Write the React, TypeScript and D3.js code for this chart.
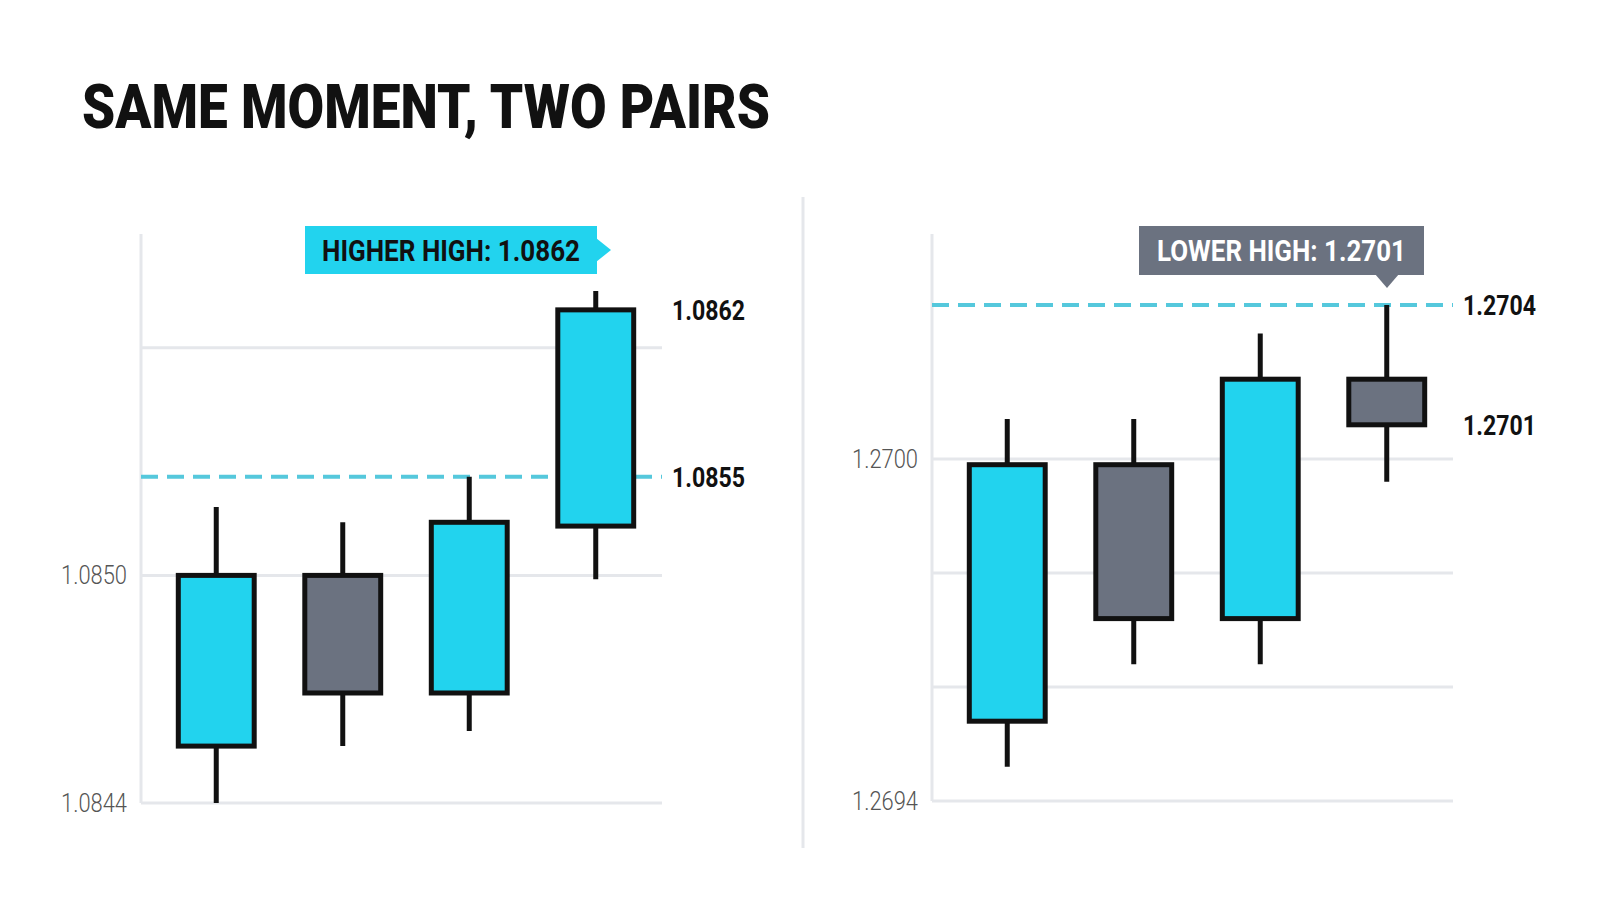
import * as d3 from 'd3'

// EUR/USD candles (left panel)
const EUR_OPEN = [1.08455, 1.085, 1.08469, 1.08513]
const EUR_HIGH = [1.08518, 1.08514, 1.08526, 1.08575]
const EUR_LOW = [1.0844, 1.08455, 1.08459, 1.08499]
const EUR_CLOSE = [1.085, 1.08469, 1.08514, 1.0857]
const EUR_GRID = [1.0844, 1.085, 1.0856]
const EUR_TICKS = ['1.0844', '1.0850']

// GBP/USD candles (right panel)
const GBP_OPEN = [1.26954, 1.26999, 1.26972, 1.27014]
const GBP_HIGH = [1.27007, 1.27007, 1.27022, 1.27027]
const GBP_LOW = [1.26946, 1.26964, 1.26964, 1.26996]
const GBP_CLOSE = [1.26999, 1.26972, 1.27014, 1.27006]
const GBP_GRID = [1.2694, 1.2696, 1.2698, 1.27]
const GBP_TICKS = ['1.2694', '1.2700']

// annotated levels: [price, label]
const EUR_LEVELS: [number, string][] = [[1.08526, '1.0855'], [1.0857, '1.0862']]
const GBP_LEVELS: [number, string][] = [[1.27027, '1.2704'], [1.27006, '1.2701']]

const CYAN = '#22d3ee'
const GRAY = '#6b7280'
const INK = '#111111'
const GRID = '#e5e7eb'
const DASH = '#55c8dc'
const FONT = 'Roboto, "Noto Sans", sans-serif'

interface PanelProps {
  axisX: number
  top: number
  bottom: number
  domain: [number, number]
  open: number[]
  high: number[]
  low: number[]
  close: number[]
  grid: number[]
  ticks: string[]
  levels: [number, string][]
}

function Panel(p: PanelProps) {
  const plotW = 521
  const y = d3.scaleLinear().domain(p.domain).range([p.bottom, p.top])
  const x = d3.scaleBand<number>()
    .domain(d3.range(p.open.length))
    .range([p.axisX + 12, p.axisX + 518])
    .paddingInner(0.4)
    .paddingOuter(0.2)
  const bw = x.bandwidth()

  return (
    <g>
      {p.grid.map((g) => (
        <line key={g} x1={p.axisX} x2={p.axisX + plotW} y1={y(g)} y2={y(g)}
          stroke={GRID} strokeWidth={3} />
      ))}
      <line x1={p.axisX} x2={p.axisX} y1={234} y2={y(p.domain[0])} stroke={GRID} strokeWidth={3} />
      {p.ticks.map((t) => (
        <text key={t} x={p.axisX - 14} y={y(+t)} dy="0.36em" textAnchor="end"
          fontFamily={FONT} fontWeight={300} fontSize={25} fill="#555"
          textLength={66} lengthAdjust="spacingAndGlyphs">{t}</text>
      ))}
      {/* dashed prior-high level */}
      <line x1={p.axisX} x2={p.axisX + plotW} y1={y(p.levels[0][0])} y2={y(p.levels[0][0])}
        stroke={DASH} strokeWidth={4} strokeDasharray="17 9" />
      {p.open.map((o, i) => {
        const c = p.close[i]
        const cx = x(i)! + bw / 2
        const up = c >= o
        return (
          <g key={i}>
            <line x1={cx} x2={cx} y1={y(p.high[i])} y2={y(p.low[i])} stroke={INK} strokeWidth={5} />
            <rect x={x(i)} y={y(Math.max(o, c))} width={bw} height={Math.abs(y(o) - y(c))}
              fill={up ? CYAN : GRAY} stroke={INK} strokeWidth={5} />
          </g>
        )
      })}
      {p.levels.map(([v, label]) => (
        <text key={label} x={p.axisX + 531} y={y(v)} dy="0.36em"
          fontFamily={FONT} fontWeight={700} fontSize={28} fill={INK}
          textLength={73} lengthAdjust="spacingAndGlyphs">{label}</text>
      ))}
    </g>
  )
}

export default function App() {
  return (
    <svg width={1600} height={914} viewBox="0 0 1600 914"
      style={{ position: 'absolute', left: 0, top: 0, display: 'block', background: '#fff' }}>
      <rect width={1600} height={914} fill="#fff" />
      <text x={82} y={128} fontFamily={FONT} fontWeight={900} fontSize={62} fill={INK}
        textLength={688} lengthAdjust="spacingAndGlyphs">SAME MOMENT, TWO PAIRS</text>

      <Panel axisX={141} top={234} bottom={803} domain={[1.0844, 1.0859]}
        open={EUR_OPEN} high={EUR_HIGH} low={EUR_LOW} close={EUR_CLOSE}
        grid={EUR_GRID} ticks={EUR_TICKS} levels={EUR_LEVELS} />

      <line x1={803} x2={803} y1={197} y2={848} stroke={GRID} strokeWidth={3} />

      <Panel axisX={932} top={231} bottom={801} domain={[1.2694, 1.2704]}
        open={GBP_OPEN} high={GBP_HIGH} low={GBP_LOW} close={GBP_CLOSE}
        grid={GBP_GRID} ticks={GBP_TICKS} levels={GBP_LEVELS} />

      {/* callouts */}
      <g>
        <rect x={305} y={226} width={292} height={48} fill={CYAN} />
        <polygon points="596,238 611,250 596,262" fill={CYAN} />
        <text x={322} y={261} fontFamily={FONT} fontWeight={700} fontSize={30} fill={INK}
          textLength={258} lengthAdjust="spacingAndGlyphs">HIGHER HIGH: 1.0862</text>
      </g>
      <g>
        <rect x={1139} y={226} width={285} height={49} fill={GRAY} />
        <polygon points="1375,274 1399,274 1387,288" fill={GRAY} />
        <text x={1157} y={261} fontFamily={FONT} fontWeight={700} fontSize={30} fill="#fff"
          textLength={249} lengthAdjust="spacingAndGlyphs">LOWER HIGH: 1.2701</text>
      </g>
    </svg>
  )
}
